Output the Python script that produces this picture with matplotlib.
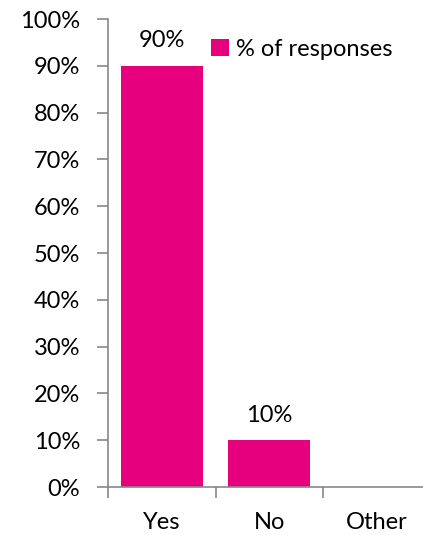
import matplotlib
matplotlib.use("Agg")
import matplotlib.pyplot as plt
from matplotlib.ticker import FuncFormatter

categories = ["Yes", "No", "Other"]
values = [90, 10, 0]
value_labels = ["90%", "10%", None]
series_name = "% of responses"
yticks = list(range(0, 101, 10))

plt.rcParams['font.family'] = ['Lato', 'DejaVu Sans']
color = "#E6007E"
FS = 17
W, H = 423, 535
fig = plt.figure(figsize=(W/100, H/100), dpi=100)
ax = fig.add_axes([108/W, (H-487)/H, (W-108)/W, (487-19)/H])

x = list(range(len(categories)))
bars = ax.bar(x, values, width=0.763, color=color, label=series_name, zorder=2)
for xi, v, lab in zip(x, values, value_labels):
    if lab:
        ax.text(xi, v + 5.3, lab, ha='center', va='center', fontsize=FS, color='#000000')

ax.set_ylim(0, 100)
ax.set_xlim(-0.5, -0.5 + (W-108)/107.5)
ax.set_yticks(yticks)
ax.yaxis.set_major_formatter(FuncFormatter(lambda v, p: f"{int(v)}%"))
ax.set_xticks([-0.5, 0.5, 1.5])
ax.set_xticklabels([])
ax.set_xticks(x, minor=True)
ax.set_xticklabels(categories, minor=True)
ax.tick_params(axis='x', which='minor', length=0, pad=18, labelsize=FS)
ax.tick_params(axis='x', which='major', length=8, color='#888888', width=1.2)
ax.tick_params(axis='y', length=8, color='#888888', width=1.2, pad=12, labelsize=FS)
for s in ['top', 'right']:
    ax.spines[s].set_visible(False)
for s in ['left', 'bottom']:
    ax.spines[s].set_color('#888888')
    ax.spines[s].set_linewidth(1.2)

ax.legend(loc='center left', bbox_to_anchor=((211-108)/(W-108), 1 - (49-19)/(487-19)),
          frameon=False, fontsize=FS, handlelength=0.75, handleheight=0.75,
          handletextpad=0.3, borderaxespad=0, borderpad=0)

fig.savefig("out.png", dpi=100)
